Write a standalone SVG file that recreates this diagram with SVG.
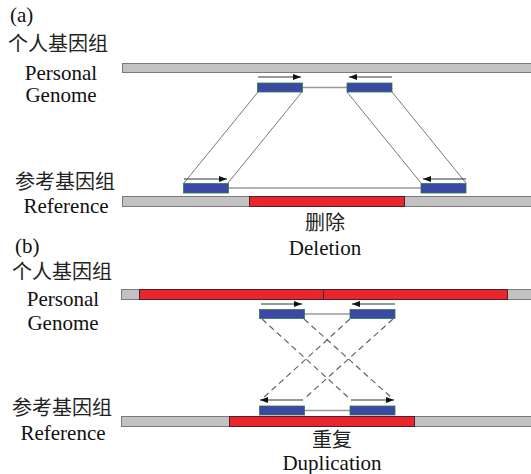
<svg xmlns="http://www.w3.org/2000/svg" width="531" height="474" viewBox="0 0 531 474">
  <defs>
    <marker id="ah" viewBox="0 0 8 6" refX="8" refY="3" markerWidth="8" markerHeight="6" markerUnits="userSpaceOnUse" orient="auto">
      <path d="M0,0 L8,3 L0,6 Z" fill="#111"/>
    </marker>
  </defs>
  <style>
    .lbl { font-size: 21px; fill: #111; }
    .cjk { font-size: 20px; fill: #222; }
    .chrom { fill: #c2c2c2; stroke: #7a7a7a; stroke-width: 1; }
    .var { fill: #e8262b; stroke: #4a2030; stroke-width: 1; }
    .read { fill: #3a49a4; stroke: #2f7a4a; stroke-width: 0.8; }
    .link { stroke: #9a9a9a; stroke-width: 1.5; fill: none; }
    .dir { stroke: #333; stroke-width: 1; fill: none; marker-end: url(#ah); }
    .map { stroke: #777; stroke-width: 1; fill: none; }
    .dash { stroke: #666; stroke-width: 1.2; fill: none; stroke-dasharray: 6 4; }
  </style>

  <!-- Panel (a): deletion -->
  <g id="labels-a">
    <text class="lbl" style="font-family:'Liberation Serif','Noto Sans CJK SC',serif !important" x="10" y="22">(a)</text>
    <text class="cjk" font-family="Noto Sans CJK SC, sans-serif" x="8" y="51">个人基因组</text>
    <text class="lbl" style="font-family:'Liberation Serif','Noto Sans CJK SC',serif !important" x="61" y="80" text-anchor="middle">Personal</text>
    <text class="lbl" style="font-family:'Liberation Serif','Noto Sans CJK SC',serif !important" x="61" y="102" text-anchor="middle">Genome</text>
    <text class="cjk" font-family="Noto Sans CJK SC, sans-serif" x="15" y="189">参考基因组</text>
    <text class="lbl" style="font-family:'Liberation Serif','Noto Sans CJK SC',serif !important" x="66" y="213" text-anchor="middle">Reference</text>
  </g>
  <g id="personal-a">
    <rect class="chrom" x="122.5" y="63.5" width="410" height="9"/>
  </g>
  <g id="reference-a">
    <rect class="chrom" x="122.5" y="196.5" width="410" height="10"/>
    <rect class="var" x="249.5" y="196.5" width="155" height="10"/>
  </g>
  <g id="connectors-a">
    <path class="map" d="M258,92 L184,183 M302,92 L228,183 M347,92 L421,183 M392,92 L466,183"/>
    <line class="link" x1="302" y1="87.5" x2="347" y2="87.5"/>
    <line class="link" x1="228" y1="188" x2="421" y2="188"/>
    <line class="dir" x1="258" y1="77" x2="301" y2="77"/>
    <line class="dir" x1="392" y1="77" x2="349" y2="77"/>
    <line class="dir" x1="184" y1="179" x2="227" y2="179"/>
    <line class="dir" x1="466" y1="179" x2="423" y2="179"/>
  </g>
  <g id="pair-a-top">
    <rect class="read" x="257.5" y="83" width="45" height="9"/>
    <rect class="read" x="347" y="83" width="45" height="9"/>
  </g>
  <g id="pair-a-ref">
    <rect class="read" x="183.5" y="183.5" width="45" height="9.5"/>
    <rect class="read" x="421" y="183.5" width="45" height="9.5"/>
  </g>
  <g id="deletion-label">
    <text class="cjk" font-family="Noto Sans CJK SC, sans-serif" x="325" y="230" text-anchor="middle" font-size="19">删除</text>
    <text class="lbl" style="font-family:'Liberation Serif','Noto Sans CJK SC',serif !important" x="325" y="255" text-anchor="middle">Deletion</text>
  </g>

  <!-- Panel (b): duplication -->
  <g id="labels-b">
    <text class="lbl" style="font-family:'Liberation Serif','Noto Sans CJK SC',serif !important" x="15" y="253">(b)</text>
    <text class="cjk" font-family="Noto Sans CJK SC, sans-serif" x="12" y="279">个人基因组</text>
    <text class="lbl" style="font-family:'Liberation Serif','Noto Sans CJK SC',serif !important" x="63" y="306" text-anchor="middle">Personal</text>
    <text class="lbl" style="font-family:'Liberation Serif','Noto Sans CJK SC',serif !important" x="63" y="330" text-anchor="middle">Genome</text>
    <text class="cjk" font-family="Noto Sans CJK SC, sans-serif" x="12" y="415">参考基因组</text>
    <text class="lbl" style="font-family:'Liberation Serif','Noto Sans CJK SC',serif !important" x="63" y="440" text-anchor="middle">Reference</text>
  </g>
  <g id="personal-b">
    <rect class="chrom" x="121.5" y="289.5" width="411" height="10"/>
    <rect class="var" x="139.5" y="289.5" width="184" height="10"/>
    <rect class="var" x="323.5" y="289.5" width="184" height="10"/>
  </g>
  <g id="reference-b">
    <rect class="chrom" x="121.5" y="416.5" width="411" height="10"/>
    <rect class="var" x="229.5" y="416.5" width="185" height="10"/>
  </g>
  <g id="connectors-b">
    <path class="dash" d="M262,319 L350,399 M304,319 L393,399 M350,319 L262,399 M393,319 L304,399"/>
    <line class="link" x1="304" y1="314" x2="350" y2="314"/>
    <line class="link" x1="304" y1="410.5" x2="350" y2="410.5"/>
    <line class="dir" x1="261" y1="304" x2="302" y2="304"/>
    <line class="dir" x1="395" y1="304" x2="352" y2="304"/>
    <line class="dir" x1="303" y1="400" x2="260" y2="400"/>
    <line class="dir" x1="351" y1="400" x2="394" y2="400"/>
  </g>
  <g id="pair-b-top">
    <rect class="read" x="259.5" y="309.5" width="45" height="9"/>
    <rect class="read" x="350" y="309.5" width="45" height="9"/>
  </g>
  <g id="pair-b-ref">
    <rect class="read" x="259.5" y="406" width="45" height="9"/>
    <rect class="read" x="350" y="406" width="45" height="9"/>
  </g>
  <g id="duplication-label">
    <text class="cjk" font-family="Noto Sans CJK SC, sans-serif" x="332" y="447" text-anchor="middle" font-size="19">重复</text>
    <text class="lbl" style="font-family:'Liberation Serif','Noto Sans CJK SC',serif !important" x="332" y="470" text-anchor="middle">Duplication</text>
  </g>
</svg>
